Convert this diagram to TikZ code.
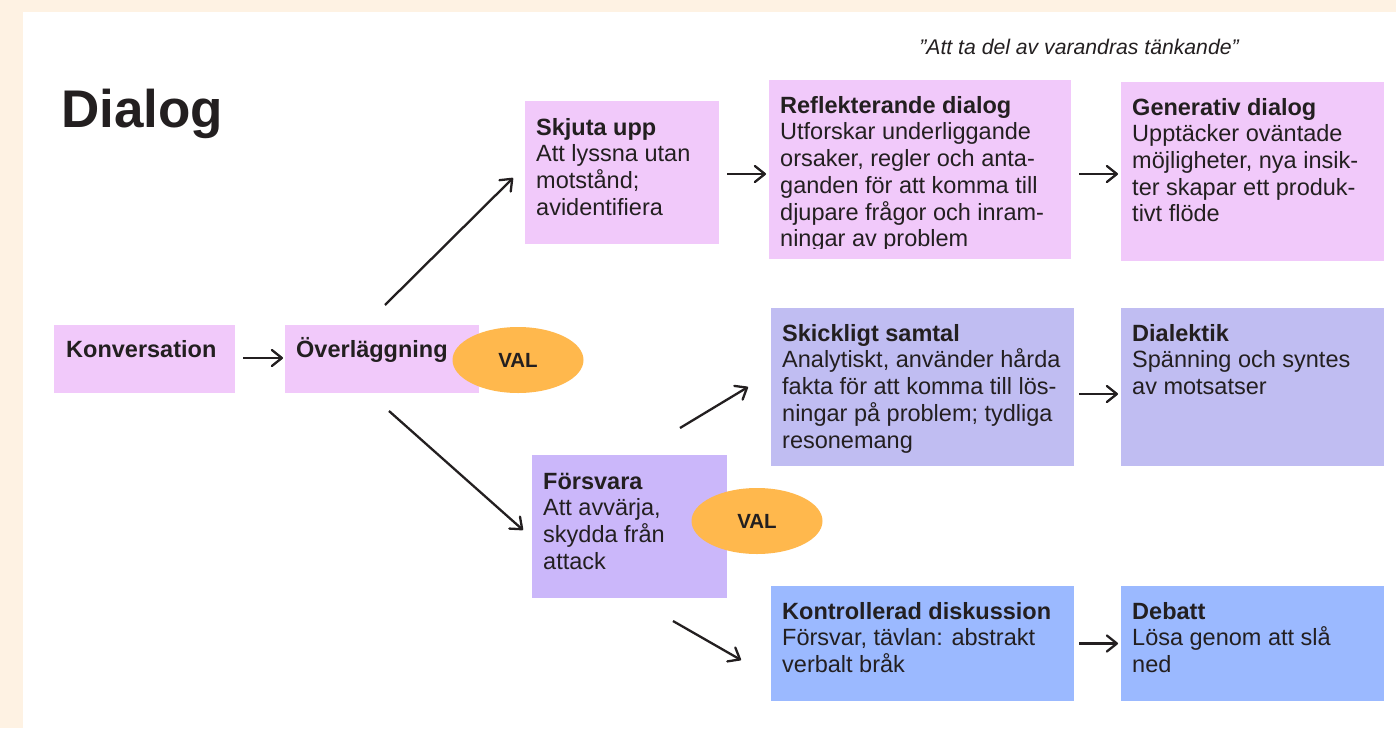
\documentclass[tikz,border=0pt]{standalone}
\usepackage{fontspec}
\setmainfont{Liberation Sans}
\usetikzlibrary{arrows.meta,shapes.geometric}
\definecolor{cream}{HTML}{FEF2E3}
\definecolor{pinkbox}{HTML}{F1C9FA}
\definecolor{lavbox}{HTML}{C0BDF2}
\definecolor{purpbox}{HTML}{CBB7FA}
\definecolor{bluebox}{HTML}{9BB9FF}
\definecolor{valor}{HTML}{FFB84D}
\definecolor{ink}{HTML}{231F20}
\newcommand{\ttl}[1]{{\fontsize{23.5}{26.7}\selectfont\bfseries #1}}
\newcommand{\boxtext}[1]{\begin{tabular}[t]{@{}l@{}}#1\end{tabular}}
\begin{document}
\begin{tikzpicture}[x=1pt,y=-1pt,
  card/.style={draw=none, inner sep=0, anchor=north west, outer sep=0},
  txt/.style={anchor=base west, inner sep=0, text=ink, font=\fontsize{23.5}{26.7}\selectfont},
  val/.style={ellipse, fill=valor, inner sep=0, minimum width=131pt, minimum height=66pt, text=ink, font=\fontsize{20.5}{20}\selectfont\bfseries},
  arr/.style={draw=ink, line width=2.3pt, -{Straight Barb[length=10pt,width=16pt,line width=2.3pt,line cap=round,line join=round]}}
]
\useasboundingbox (0,0) rectangle (1396,728);
\fill[cream] (0,0) rectangle (1396,728);
\fill[white] (23,12) rectangle (1396,728);

% title and quote
\node[anchor=base west, inner sep=0, text=ink, font=\fontsize{53}{53}\selectfont\bfseries] (title) at (61,127) {Dialog};
\node[anchor=base, inner sep=0, text=ink, font=\fontsize{21.2}{22}\selectfont\itshape] (quote) at (1079,54) {”Att ta del av varandras tänkande”};

% cards
\node[card, fill=pinkbox, minimum width=181pt, minimum height=68pt] (konv) at (54,325) {};
\node[card, fill=pinkbox, minimum width=194pt, minimum height=68pt] (over) at (285,325) {};
\node[card, fill=pinkbox, minimum width=194pt, minimum height=143pt] (skjuta) at (525,101) {};
\node[card, fill=pinkbox, minimum width=302pt, minimum height=179pt] (refl) at (769,80) {};
\node[card, fill=pinkbox, minimum width=263pt, minimum height=179pt] (gen) at (1121,82) {};
\node[card, fill=lavbox, minimum width=303pt, minimum height=158pt] (skick) at (771,308) {};
\node[card, fill=lavbox, minimum width=263pt, minimum height=158pt] (dial) at (1121,308) {};
\node[card, fill=purpbox, minimum width=195pt, minimum height=143pt] (forsv) at (532,455) {};
\node[card, fill=bluebox, minimum width=303pt, minimum height=115pt] (kontr) at (771,586) {};
\node[card, fill=bluebox, minimum width=263pt, minimum height=115pt] (debatt) at (1121,586) {};

% card texts
\node[txt] (konvT) at ([shift={(12,32)}]konv.north west) {\boxtext{\ttl{Konversation}}};
\node[txt] (overT) at ([shift={(11,32)}]over.north west) {\boxtext{\ttl{Överläggning}}};
\node[txt] (skjutaT) at ([shift={(11,34)}]skjuta.north west) {\boxtext{\ttl{Skjuta upp}\\Att lyssna utan\\motstånd;\\avidentifiera}};
\begin{scope}
\clip (769,80) rectangle (1071,248.5);
\node[txt] (reflT) at ([shift={(11,33)}]refl.north west) {\boxtext{\ttl{Reflekterande dialog}\\Utforskar underliggande\\orsaker, regler och anta-\\ganden för att komma till\\djupare frågor och inram-\\ningar av problem}};
\end{scope}
\node[txt] (genT) at ([shift={(11,33)}]gen.north west) {\boxtext{\ttl{Generativ dialog}\\Upptäcker oväntade\\möjligheter, nya insik-\\ter skapar ett produk-\\tivt flöde}};
\node[txt] (skickT) at ([shift={(11,33)}]skick.north west) {\boxtext{\ttl{Skickligt samtal}\\Analytiskt, använder hårda\\fakta för att komma till lös-\\ningar på problem; tydliga\\resonemang}};
\node[txt] (dialT) at ([shift={(11,33)}]dial.north west) {\boxtext{\ttl{Dialektik}\\Spänning och syntes\\av motsatser}};
\node[txt] (forsvT) at ([shift={(11,34)}]forsv.north west) {\boxtext{\ttl{Försvara}\\Att avvärja,\\skydda från\\attack}};
\node[txt] (kontrT) at ([shift={(11,33)}]kontr.north west) {\boxtext{\ttl{Kontrollerad diskussion}\\Försvar, tävlan: abstrakt\\verbalt bråk}};
\node[txt] (debattT) at ([shift={(11,33)}]debatt.north west) {\boxtext{\ttl{Debatt}\\Lösa genom att slå\\ned}};

% VAL ellipses
\node[val] (val1) at (518,360) {VAL};
\node[val] (val2) at (757,521) {VAL};

% free ends of diagonal connectors
\coordinate (o1s) at (385,305);
\coordinate (o1e) at (513,178);
\coordinate (o2s) at (389,411);
\coordinate (o2e) at (523,530);
\coordinate (f1s) at (680,428);
\coordinate (f1e) at (748,387);
\coordinate (f2s) at (673,621);
\coordinate (f2e) at (741,660);

% connectors
\draw[arr, shorten <=8pt, shorten >=2pt] ([yshift=1pt]konv.east) -- ([yshift=1pt]konv.east -| over.west);
\draw[arr] (o1s) -- (o1e);
\draw[arr] (o2s) -- (o2e);
\draw[arr, shorten <=8pt, shorten >=3pt] ([yshift=-1.5pt]skjuta.east) -- ([yshift=-1.5pt]skjuta.east -| refl.west);
\draw[arr, shorten <=8pt, shorten >=3pt] ([yshift=-4.5pt]refl.east) -- ([yshift=-4.5pt]refl.east -| gen.west);
\draw[arr] (f1s) -- (f1e);
\draw[arr] (f2s) -- (f2e);
\draw[arr, shorten <=5pt, shorten >=3pt] ([yshift=-7pt]skick.east) -- ([yshift=-7pt]skick.east -| dial.west);
\draw[arr, shorten <=5pt, shorten >=3pt] ([yshift=0pt]kontr.east) -- ([yshift=0pt]kontr.east -| debatt.west);
\end{tikzpicture}
\end{document}
